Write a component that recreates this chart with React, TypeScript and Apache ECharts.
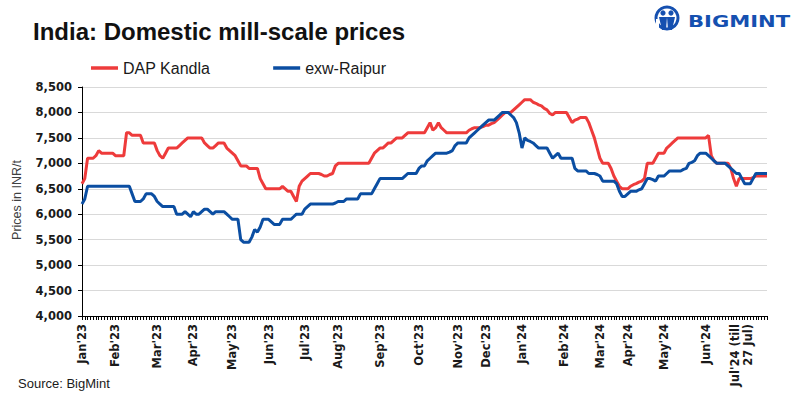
import React, { useEffect, useRef } from "react";
import * as echarts from "echarts";

const seriesNames = ["DAP Kandla", "exw-Raipur"];

const monthLabels = [
  "Jan'23", "Feb'23", "Mar'23", "Apr'23", "May'23", "Jun'23", "Jul'23", "Aug'23",
  "Sep'23", "Oct'23", "Nov'23", "Dec'23", "Jan'24", "Feb'24", "Mar'24", "Apr'24",
  "May'24", "Jun'24", "Jul'24 (till\n27 Jul)",
];
const monthStart = [0, 12, 27, 40, 54, 67, 80, 92, 107, 121, 135, 145, 158, 173, 186, 196, 209, 224, 237];

const dapKandla = [
  6600, 6700, 7100, 7100, 7100, 7150, 7250, 7200, 7200, 7200,
  7200, 7200, 7150, 7150, 7150, 7150, 7600, 7600, 7550, 7550,
  7550, 7550, 7400, 7400, 7400, 7400, 7400, 7250, 7150, 7100,
  7200, 7300, 7300, 7300, 7300, 7350, 7400, 7450, 7500, 7500,
  7500, 7500, 7500, 7500, 7400, 7350, 7300, 7300, 7350, 7400,
  7400, 7400, 7300, 7250, 7200, 7150, 7050, 6950, 6950, 6950,
  6900, 6900, 6900, 6900, 6700, 6600, 6500, 6500, 6500, 6500,
  6500, 6500, 6550, 6500, 6450, 6450, 6350, 6250, 6550, 6650,
  6700, 6750, 6800, 6800, 6800, 6800, 6780, 6750, 6750, 6780,
  6800, 6950, 7000, 7000, 7000, 7000, 7000, 7000, 7000, 7000,
  7000, 7000, 7000, 7000, 7100, 7200, 7250, 7300, 7300, 7350,
  7400, 7400, 7450, 7500, 7500, 7500, 7550, 7600, 7600, 7600,
  7600, 7600, 7600, 7600, 7700, 7800, 7650, 7700, 7800, 7700,
  7650, 7600, 7600, 7600, 7600, 7600, 7600, 7600, 7600, 7650,
  7680, 7700, 7700, 7700, 7720, 7750, 7750, 7780, 7800, 7850,
  7900, 7950, 8000, 8000, 8000, 8050, 8100, 8150, 8200, 8250,
  8250, 8250, 8200, 8180, 8150, 8130, 8080, 8050, 7980, 7950,
  8000, 8000, 8000, 8000, 8000, 7900, 7800, 7850, 7870, 7900,
  7900, 7900, 7800, 7650, 7500, 7300, 7100, 7000, 7000, 7000,
  6900, 6750, 6650, 6550, 6500, 6500, 6500, 6550, 6580, 6600,
  6630, 6650, 6700, 7000, 7000, 7000, 7100, 7200, 7200, 7200,
  7300, 7350, 7400, 7450, 7500, 7500, 7500, 7500, 7500, 7500,
  7500, 7500, 7500, 7500, 7500, 7550, 7150, 7050, 7000, 7000,
  7000, 7000, 7000, 6900, 6700, 6550, 6700, 6700, 6700, 6700,
  6700, 6720, 6750, 6750, 6750, 6750, 6750,
];

const exwRaipur = [
  6200, 6300, 6550, 6550, 6550, 6550, 6550, 6550, 6550, 6550,
  6550, 6550, 6550, 6550, 6550, 6550, 6550, 6550, 6400, 6250,
  6250, 6250, 6300, 6400, 6400, 6400, 6350, 6250, 6200, 6150,
  6150, 6150, 6150, 6150, 6000, 6000, 6000, 6050, 6000, 5950,
  6050, 6000, 6000, 6050, 6100, 6100, 6050, 6000, 6050, 6050,
  6050, 6050, 6000, 5950, 5900, 5900, 5900, 5500, 5450, 5450,
  5450, 5550, 5700, 5650, 5750, 5900, 5900, 5900, 5850, 5800,
  5800, 5800, 5900, 5900, 5900, 5900, 5950, 6000, 6000, 6000,
  6100, 6150, 6200, 6200, 6200, 6200, 6200, 6200, 6200, 6200,
  6200, 6220, 6250, 6250, 6250, 6300, 6300, 6300, 6300, 6300,
  6400, 6400, 6400, 6400, 6400, 6500, 6600, 6700, 6700, 6700,
  6700, 6700, 6700, 6700, 6700, 6700, 6750, 6800, 6800, 6800,
  6800, 6900, 6950, 6950, 7050, 7100, 7150, 7200, 7200, 7200,
  7200, 7200, 7220, 7250, 7350, 7400, 7400, 7400, 7400, 7500,
  7550, 7600, 7650, 7700, 7750, 7800, 7850, 7850, 7850, 7900,
  7950, 8000, 8000, 8000, 7950, 7900, 7800, 7600, 7300, 7500,
  7450, 7430, 7400, 7350, 7300, 7300, 7300, 7300, 7200, 7100,
  7150, 7200, 7100, 7100, 7100, 7100, 7100, 6900, 6850, 6850,
  6850, 6850, 6800, 6800, 6800, 6780, 6750, 6650, 6650, 6650,
  6650, 6650, 6600, 6450, 6350, 6350, 6400, 6450, 6450, 6450,
  6480, 6500, 6600, 6700, 6700, 6680, 6650, 6750, 6750, 6750,
  6800, 6850, 6850, 6850, 6850, 6850, 6880, 6900, 7000, 7020,
  7050, 7150, 7200, 7200, 7200, 7150, 7100, 7050, 7000, 7000,
  7000, 7000, 6950, 6900, 6850, 6800, 6800, 6700, 6600, 6600,
  6600, 6700, 6800, 6800, 6800, 6800, 6800,
];

const yMin = 4000;
const yMax = 8500;
const yStep = 500;

const RED = "#EE3B3B";
const BLUE = "#0B4EA2";
const LOGO_BLUE = "#1550B0";

export default function App() {
  const ref = useRef<HTMLDivElement>(null);

  useEffect(() => {
    if (!ref.current) return;
    const chart = echarts.init(ref.current, null, { renderer: "svg" });
    const categories = dapKandla.map((_, i) => {
      const m = monthStart.indexOf(i);
      return m >= 0 ? monthLabels[m] : "p" + i;
    });

    chart.setOption({
      animation: false,
      backgroundColor: "#ffffff",
      grid: { left: 82, right: 38, top: 87, bottom: 83, containLabel: false },
      legend: {
        left: 86,
        top: 55,
        itemWidth: 27,
        itemHeight: 3.5,
        itemGap: 63,
        icon: "rect",
        textStyle: { fontFamily: "Liberation Sans, Arial, sans-serif", fontSize: 16, color: "#1a1a1a" },
        data: seriesNames,
      },
      xAxis: {
        type: "category",
        boundaryGap: false,
        data: categories,
        axisLine: { show: true, lineStyle: { color: "#000000", width: 1 } },
        axisTick: { show: true, interval: 0, length: 4, inside: false, lineStyle: { color: "#000000", width: 1 } },
        axisLabel: {
          interval: (idx: number) => monthStart.indexOf(idx) >= 0,
          formatter: (v: string) => (v.startsWith("p") ? "" : v),
          rotate: 90,
          margin: 8,
          fontFamily: "DejaVu Sans, sans-serif",
          fontWeight: "bold",
          fontSize: 11.5,
          lineHeight: 13,
          color: "#1a1a1a",
        },
        splitLine: { show: false },
      },
      yAxis: {
        type: "value",
        min: yMin,
        max: yMax,
        interval: yStep,
        axisLine: { show: true, lineStyle: { color: "#000000", width: 1 } },
        axisTick: { show: true, length: 4, lineStyle: { color: "#000000" } },
        axisLabel: {
          margin: 10,
          fontFamily: "DejaVu Sans, sans-serif",
          fontWeight: "bold",
          fontSize: 11.5,
          color: "#1a1a1a",
          formatter: (v: number) => v.toLocaleString("en-US"),
        },
        splitLine: { show: true, lineStyle: { color: "#d9d9d9", width: 1 } },
      },
      series: [
        {
          name: seriesNames[0],
          type: "line",
          data: dapKandla,
          showSymbol: false,
          symbol: "none",
          lineStyle: { color: RED, width: 3 },
          itemStyle: { color: RED },
        },
        {
          name: seriesNames[1],
          type: "line",
          data: exwRaipur,
          showSymbol: false,
          symbol: "none",
          lineStyle: { color: BLUE, width: 3 },
          itemStyle: { color: BLUE },
        },
      ],
      graphic: [
        {
          type: "text",
          left: 33,
          top: 19,
          style: {
            text: "India: Domestic mill-scale prices",
            fontFamily: "Liberation Sans, Arial, sans-serif",
            fontWeight: "bold",
            fontSize: 24,
            fill: "#111111",
          },
        },
        {
          type: "text",
          x: 17,
          y: 200,
          rotation: Math.PI / 2,
          style: {
            text: "Prices in INR/t",
            fontFamily: "Liberation Sans, Arial, sans-serif",
            fontSize: 12.5,
            fill: "#404040",
            align: "center",
            verticalAlign: "middle",
          },
        },
        {
          type: "text",
          left: 18,
          top: 377,
          style: {
            text: "Source: BigMint",
            fontFamily: "Liberation Sans, Arial, sans-serif",
            fontSize: 13,
            fill: "#1a1a1a",
          },
        },
        {
          type: "group",
          children: [
            { type: "ring", shape: { cx: 667, cy: 18, r: 12.5, r0: 9.5 }, style: { fill: LOGO_BLUE } },
            { type: "circle", shape: { cx: 663, cy: 13, r: 2.6 }, style: { fill: LOGO_BLUE } },
            { type: "circle", shape: { cx: 671, cy: 13, r: 2.6 }, style: { fill: LOGO_BLUE } },
            { type: "polygon", shape: { points: [[659, 17], [667, 17], [666, 30], [662, 30]] }, style: { fill: LOGO_BLUE } },
            { type: "polygon", shape: { points: [[667, 17], [675, 17], [672, 30], [668, 30]] }, style: { fill: LOGO_BLUE } },
            { type: "rect", shape: { x: 656, y: 19, width: 3, height: 9 }, style: { fill: "#ffffff" } },
            {
              type: "text",
              x: 688,
              y: 21,
              scaleX: 1.32,
              style: {
                text: "BIGMINT",
                fontFamily: "DejaVu Sans, sans-serif",
                fontWeight: "bold",
                fontSize: 16,
                fill: LOGO_BLUE,
                verticalAlign: "middle",
              },
            },
          ],
        },
      ],
    });

    return () => chart.dispose();
  }, []);

  return (
    <div
      ref={ref}
      style={{ position: "fixed", left: 0, top: 0, width: 805, height: 399, background: "#fff" }}
    />
  );
}
